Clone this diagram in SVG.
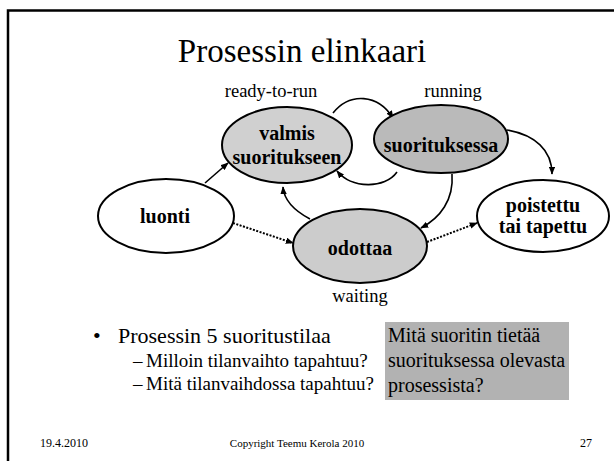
<svg xmlns="http://www.w3.org/2000/svg" width="614" height="461" viewBox="0 0 614 461">
<style>
text{font-family:'Liberation Serif','DejaVu Serif',serif;fill:#000}
.b{font-weight:bold;font-size:20px;text-anchor:middle}
.n{stroke:#000;stroke-width:2}
.c{fill:none;stroke:#000;stroke-width:1.6}
.d{fill:none;stroke:#000;stroke-width:2;stroke-dasharray:2 1.5}
</style>
<defs>
<marker id="ah" viewBox="0 0 10 8" refX="9" refY="4" markerWidth="8" markerHeight="6.4" markerUnits="userSpaceOnUse" orient="auto">
<path d="M0,0 L10,4 L0,8 Z" fill="#000"/>
</marker>
</defs>
<rect width="614" height="461" fill="#fff"/>
<path d="M8,461 V10.5 H614" fill="none" stroke="#000" stroke-width="2.5"/>
<text x="302" y="62" font-size="33" text-anchor="middle" font-family="Liberation Serif, serif">Prosessin elinkaari</text>
<text x="271" y="97" font-size="18.5" text-anchor="middle" font-family="Liberation Serif, serif">ready-to-run</text>
<text x="453" y="97" font-size="18.5" text-anchor="middle" font-family="Liberation Serif, serif">running</text>
<text x="360" y="302" font-size="18.5" text-anchor="middle" font-family="Liberation Serif, serif">waiting</text>

<g id="connectors">
<path class="c" d="M205,183 L228,163" marker-end="url(#ah)"/>
<path class="c" d="M333,113 C350,92 378,94 393,118" marker-end="url(#ah)"/>
<path class="c" d="M397,172 C385,189 352,189 337,171" marker-end="url(#ah)"/>
<path class="c" d="M507,130 C535,135 552,150 552,174" marker-end="url(#ah)"/>
<path class="c" d="M452,174 C454,200 440,218 421,228" marker-end="url(#ah)"/>
<path class="c" d="M310,219 C293,210 284,200 283,187" marker-end="url(#ah)"/>
<path class="d" d="M233,223 L293,243" marker-end="url(#ah)"/>
<path class="d" d="M427,242 L477,223" marker-end="url(#ah)"/>
</g>

<g id="valmis">
<ellipse class="n" cx="287" cy="145" rx="65" ry="38" fill="#d0d0d0"/>
<text class="b" x="287" y="140" font-family="Liberation Serif, serif">valmis</text>
<text class="b" x="287" y="164" font-family="Liberation Serif, serif">suoritukseen</text>
</g>
<g id="suorituksessa">
<ellipse class="n" cx="441" cy="139" rx="67" ry="34" fill="#bababa"/>
<text class="b" x="441" y="152" font-family="Liberation Serif, serif">suorituksessa</text>
</g>
<g id="luonti">
<ellipse class="n" cx="166" cy="216" rx="68" ry="37" fill="#fff"/>
<text class="b" x="165" y="223" font-family="Liberation Serif, serif">luonti</text>
</g>
<g id="odottaa">
<ellipse class="n" cx="360" cy="246" rx="67" ry="37" fill="#cccccc"/>
<text class="b" x="360" y="255" font-family="Liberation Serif, serif">odottaa</text>
</g>
<g id="poistettu">
<ellipse class="n" cx="543" cy="216" rx="66" ry="36" fill="#fff"/>
<text class="b" x="543" y="212" font-family="Liberation Serif, serif">poistettu</text>
<text class="b" x="543" y="233" font-family="Liberation Serif, serif">tai tapettu</text>
</g>

<g id="bullets" font-family="Liberation Serif, serif">
<text x="93" y="343" font-size="22" font-family="Liberation Serif, serif">•</text>
<text x="118" y="343" font-size="22" font-family="Liberation Serif, serif">Prosessin 5 suoritustilaa</text>
<text x="133" y="367" font-size="19" font-family="Liberation Serif, serif">–</text>
<text x="146" y="367" font-size="19" font-family="Liberation Serif, serif">Milloin tilanvaihto tapahtuu?</text>
<text x="133" y="390" font-size="19" font-family="Liberation Serif, serif">–</text>
<text x="146" y="390" font-size="19" font-family="Liberation Serif, serif">Mitä tilanvaihdossa tapahtuu?</text>
</g>

<g id="note">
<rect x="385" y="322" width="184" height="78" fill="#b2b2b2"/>
<text x="388" y="342" font-size="20" font-family="Liberation Serif, serif">Mitä suoritin tietää</text>
<text x="388" y="367" font-size="20" font-family="Liberation Serif, serif">suorituksessa olevasta</text>
<text x="388" y="392" font-size="20" font-family="Liberation Serif, serif">prosessista?</text>
</g>

<g id="footer">
<text x="40" y="447" font-size="12" font-family="Liberation Serif, serif">19.4.2010</text>
<text x="297" y="447" font-size="11" text-anchor="middle" font-family="Liberation Serif, serif">Copyright Teemu Kerola 2010</text>
<text x="592" y="447" font-size="12" text-anchor="end" font-family="Liberation Serif, serif">27</text>
</g>
</svg>
